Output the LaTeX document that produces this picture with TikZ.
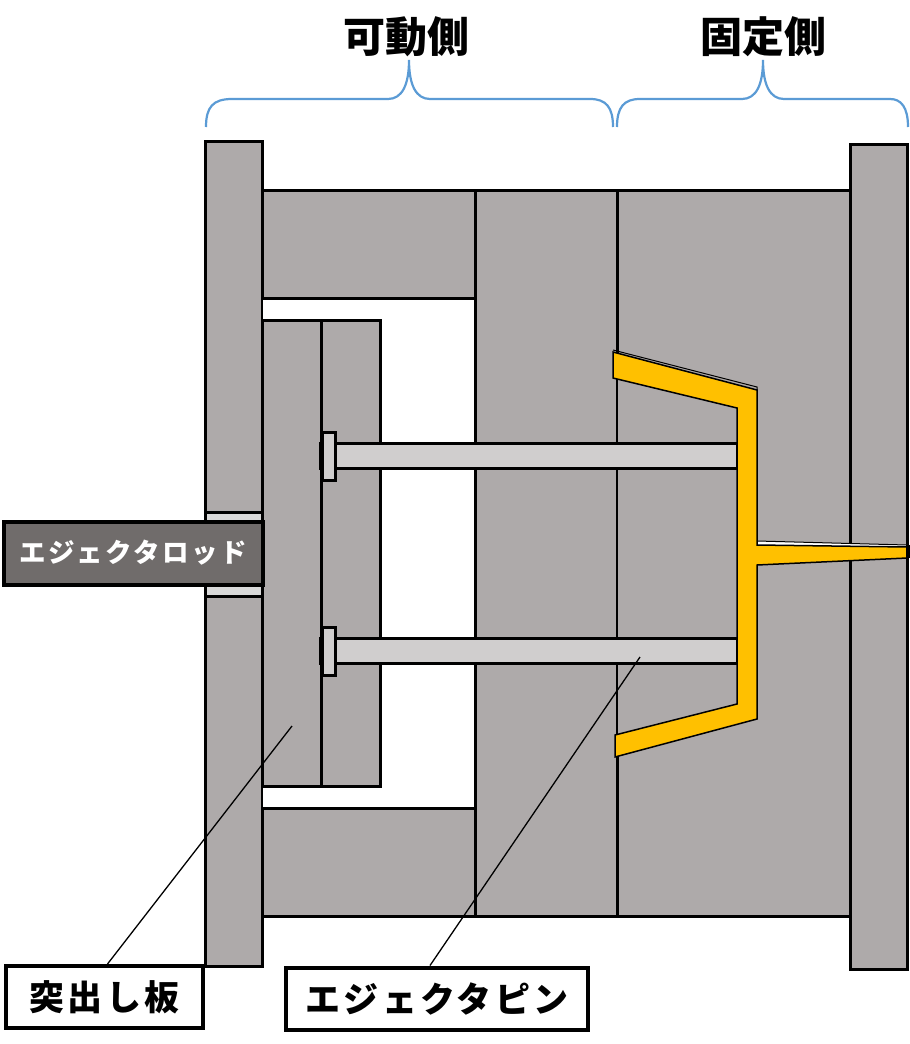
\documentclass[tikz,border=0pt]{standalone}
\usepackage{fontspec}
\usepackage{tikz}
\usetikzlibrary{calc, positioning}
\newfontfamily\jpfont{Noto Sans CJK JP}
\newfontfamily\jptrack{Noto Sans CJK JP}[LetterSpace=9]
\definecolor{moldgrey}{HTML}{AEAAAA}
\definecolor{pingrey}{HTML}{D0CECE}
\definecolor{holegrey}{HTML}{D9D9D9}
\definecolor{rodgrey}{HTML}{706C6B}
\definecolor{resinyellow}{HTML}{FFC000}
\definecolor{braceblue}{HTML}{5B9BD5}

\begin{document}
\begin{tikzpicture}[
	x=1pt, y=-1pt,
	mold/.style = {draw=black, fill=moldgrey, line width=3pt},
	pinbody/.style = {draw=black, fill=pingrey, line width=3pt},
	resin/.style = {draw=black, fill=resinyellow, line width=1.5pt, line join=miter},
	bracket/.style = {draw=braceblue, line width=2.2pt},
	leader/.style = {draw=black, line width=1.3pt},
	heading/.style = {font=\jpfont\bfseries\fontsize{42}{46}\selectfont, inner sep=0pt},
	labelbox/.style = {draw=black, fill=white, line width=4pt, inner sep=0pt, minimum height=62pt, font=\jptrack\bfseries\fontsize{35}{40}\selectfont}
]
	\useasboundingbox (0,0) rectangle (910,1044);

	% moving and fixed plates
	\draw[mold] (205.5,141.5) rectangle (262.5,966);
	\draw[mold] (850.5,144.5) rectangle (907.5,969);
	\draw[mold] (262.5,190.5) rectangle (475,298);
	\draw[mold] (262.5,808) rectangle (475,916);
	\draw[mold] (475,190.5) rectangle (617,916);
	\draw[mold] (617,190.5) rectangle (850.5,916);
	\fill[moldgrey] (611,378) rectangle (623,735);
	\draw[black, line width=1.5pt] (617,378) -- (617,735);
	\draw[draw=black, fill=white, line width=3pt] (262.5,298) -- (475,298) -- (475,808) -- (262.5,808);

	% ejector plates
	\draw[mold] (262.5,320.5) rectangle (321.5,786);
	\draw[mold] (321.5,320.5) rectangle (380.5,786);

	% rod and its hole
	\draw[draw=black, fill=holegrey, line width=3pt] (205.5,512) rectangle (262.5,596);

	% pins
	\foreach \pinname/\piny in {upper/443, lower/638} {
		\draw[pinbody] (335,\piny) rectangle (737,\piny+25);
		\draw[black, line width=2pt] (320,\piny-1) -- (320,\piny+27);
		\draw[pinbody] (322.5,\piny-10.5) rectangle (335.5,\piny+37);
	}

	% molded part
	\draw[black, line width=1pt] (613,350) -- (757,387) -- (757,400);
	\draw[black, line width=1pt, fill=white] (757,541) -- (907,545) -- (907,550) -- (757,548) -- cycle;
	\draw[resin] (613,352) -- (757,390) -- (757,545) -- (907,547) -- (907,558) -- (757,565)
		-- (757,719) -- (615,757) -- (615,735) -- (737,704) -- (737,408) -- (613,378) -- cycle;
	\fill[black] (906,545) rectangle (910,558);

	\node[draw=black, fill=rodgrey, line width=4pt, inner sep=0pt, minimum width=259pt, minimum height=63pt,
		text=white, font=\jptrack\bfseries\fontsize{26.5}{32}\selectfont] (rod) at (133,553) {エジェクタロッド};

	% headings and brackets
	\node[heading] (movinghead) at (406,37) {可動側};
	\node[heading] (fixedhead) at (763.5,37) {固定側};
	\coordinate (movingtip) at (409,60);
	\coordinate (fixedtip) at (763,60);
	\draw[bracket] (206,127) .. controls (206,107) and (213,99) .. (232,99) -- (388,99)
		.. controls (402,99) and (409,85) .. (movingtip)
		.. controls (409,85) and (416,99) .. (430,99) -- (590,99)
		.. controls (606,99) and (613,107) .. (613,127);
	\draw[bracket] (617,127) .. controls (617,107) and (624,99) .. (640,99) -- (742,99)
		.. controls (756,99) and (763,85) .. (fixedtip)
		.. controls (763,85) and (770,99) .. (784,99) -- (890,99)
		.. controls (901,99) and (908,107) .. (908,127);

	% callouts
	\node[labelbox, minimum width=197pt] (platelabel) at (104.5,997) {突出し板};
	\node[labelbox, minimum width=302pt] (pinlabel) at (437,998.5) {エジェクタピン};
	\coordinate (platetarget) at (292,726);
	\coordinate (pintarget) at (640,657);
	\draw[leader] ($(platelabel.north)+(3,0)$) -- (platetarget);
	\draw[leader] ($(pinlabel.north)+(-7,0)$) -- (pintarget);
\end{tikzpicture}
\end{document}
